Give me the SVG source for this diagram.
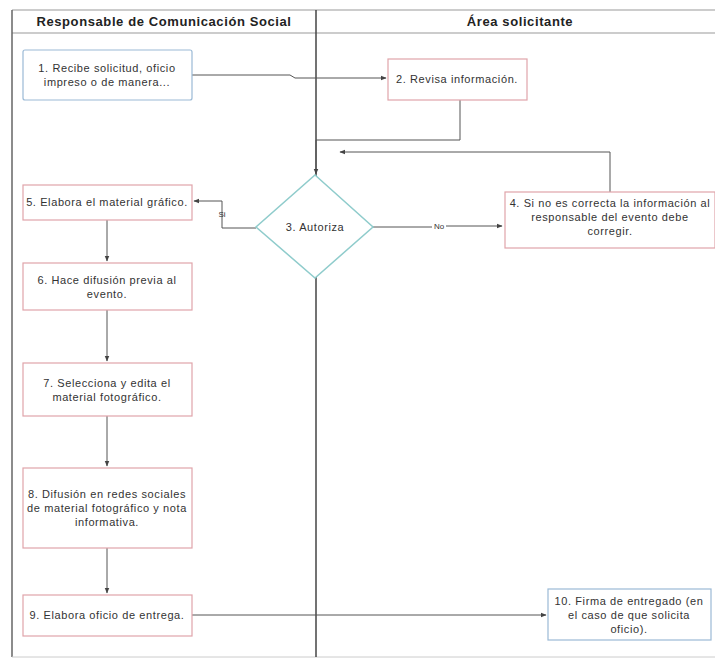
<svg xmlns="http://www.w3.org/2000/svg" width="715" height="659" viewBox="0 0 715 659">
<defs>
<marker id="arr" viewBox="0 0 10 10" refX="9" refY="5" markerWidth="6" markerHeight="6" orient="auto">
<path d="M0,1 L10,5 L0,9 z" fill="#444"/>
</marker>
<style>
.hdr{font-family:"Liberation Sans",Arial,sans-serif;font-size:13px;font-weight:bold;fill:#222;text-anchor:middle;letter-spacing:0.6px}
.t{font-family:"Liberation Sans",Arial,sans-serif;font-size:11px;fill:#333;text-anchor:middle;letter-spacing:0.6px}
.lbl{font-family:"Liberation Sans",Arial,sans-serif;font-size:8px;fill:#333;text-anchor:middle}
.red{fill:#fff;stroke:#e0a4aa;stroke-width:1.2}
.blue{fill:#fff;stroke:#9bbad6;stroke-width:1.2}
.dia{fill:#fff;stroke:#8fcccc;stroke-width:1.5}
.e{fill:none;stroke:#555;stroke-width:1}
</style>
</defs>
<rect width="715" height="659" fill="#fff"/>
<g id="lanes">
<line x1="12" y1="10" x2="715" y2="10" stroke="#bbb" stroke-width="1.5"/>
<line x1="12" y1="33" x2="715" y2="33" stroke="#bbb" stroke-width="1.5"/>
<line x1="12" y1="10" x2="12" y2="657" stroke="#666" stroke-width="1.5"/>
<line x1="12" y1="657" x2="715" y2="657" stroke="#ccc" stroke-width="1"/>
<line x1="316" y1="10" x2="316" y2="657" stroke="#444" stroke-width="1.5"/>
<text class="hdr" x="164" y="26">Responsable de Comunicación Social</text>
<text class="hdr" x="520" y="26">Área solicitante</text>
</g>
<g id="connectors">
<path class="e" d="M192,75 H290 L295,78 H386" marker-end="url(#arr)"/>
<path class="e" d="M460,100 V140 H316 V174" marker-end="url(#arr)"/>
<path class="e" d="M610,192 V152 H340" marker-end="url(#arr)"/>
<path class="e" d="M373,227 H432 M446,226 H502" marker-end="url(#arr)"/>
<text class="lbl" x="439" y="229">No</text>
<path class="e" d="M256,228 H222 V201 H194" marker-end="url(#arr)"/>
<text class="lbl" x="222" y="217">Si</text>
<path class="e" d="M107,220 V261" marker-end="url(#arr)"/>
<path class="e" d="M107,310 V361" marker-end="url(#arr)"/>
<path class="e" d="M107,416 V466" marker-end="url(#arr)"/>
<path class="e" d="M107,548 V593" marker-end="url(#arr)"/>
<path class="e" d="M192,615 H546" marker-end="url(#arr)"/>
</g>
<g id="n1">
<rect class="blue" x="23" y="50" width="169" height="50" rx="2"/>
<text class="t" x="107" y="72">1. Recibe solicitud, oficio</text>
<text class="t" x="107" y="86">impreso o de manera...</text>
</g>
<g id="n2">
<rect class="red" x="388" y="59" width="139" height="41"/>
<text class="t" x="457" y="83">2. Revisa información.</text>
</g>
<g id="n3">
<polygon class="dia" points="315,175 373,227 315,278 256,227"/>
<text class="t" x="315" y="231">3. Autoriza</text>
</g>
<g id="n4">
<rect class="red" x="505" y="192" width="210" height="56"/>
<text class="t" x="610" y="207">4. Si no es correcta la información al</text>
<text class="t" x="610" y="221">responsable del evento debe</text>
<text class="t" x="610" y="235">corregir.</text>
</g>
<g id="n5">
<rect class="red" x="23" y="185" width="169" height="35"/>
<text class="t" x="107" y="206">5. Elabora el material gráfico.</text>
</g>
<g id="n6">
<rect class="red" x="23" y="263" width="169" height="47"/>
<text class="t" x="107" y="284">6. Hace difusión previa al</text>
<text class="t" x="107" y="298">evento.</text>
</g>
<g id="n7">
<rect class="red" x="23" y="363" width="169" height="53"/>
<text class="t" x="107" y="387">7. Selecciona y edita el</text>
<text class="t" x="107" y="401">material fotográfico.</text>
</g>
<g id="n8">
<rect class="red" x="23" y="468" width="169" height="80"/>
<text class="t" x="107" y="498">8. Difusión en redes sociales</text>
<text class="t" x="107" y="512">de material fotográfico y nota</text>
<text class="t" x="107" y="526">informativa.</text>
</g>
<g id="n9">
<rect class="red" x="23" y="595" width="169" height="41"/>
<text class="t" x="107" y="619">9. Elabora oficio de entrega.</text>
</g>
<g id="n10">
<rect class="blue" x="548" y="589" width="163" height="51"/>
<text class="t" x="629" y="605">10. Firma de entregado (en</text>
<text class="t" x="629" y="619">el caso de que solicita</text>
<text class="t" x="629" y="633">oficio).</text>
</g>
</svg>
